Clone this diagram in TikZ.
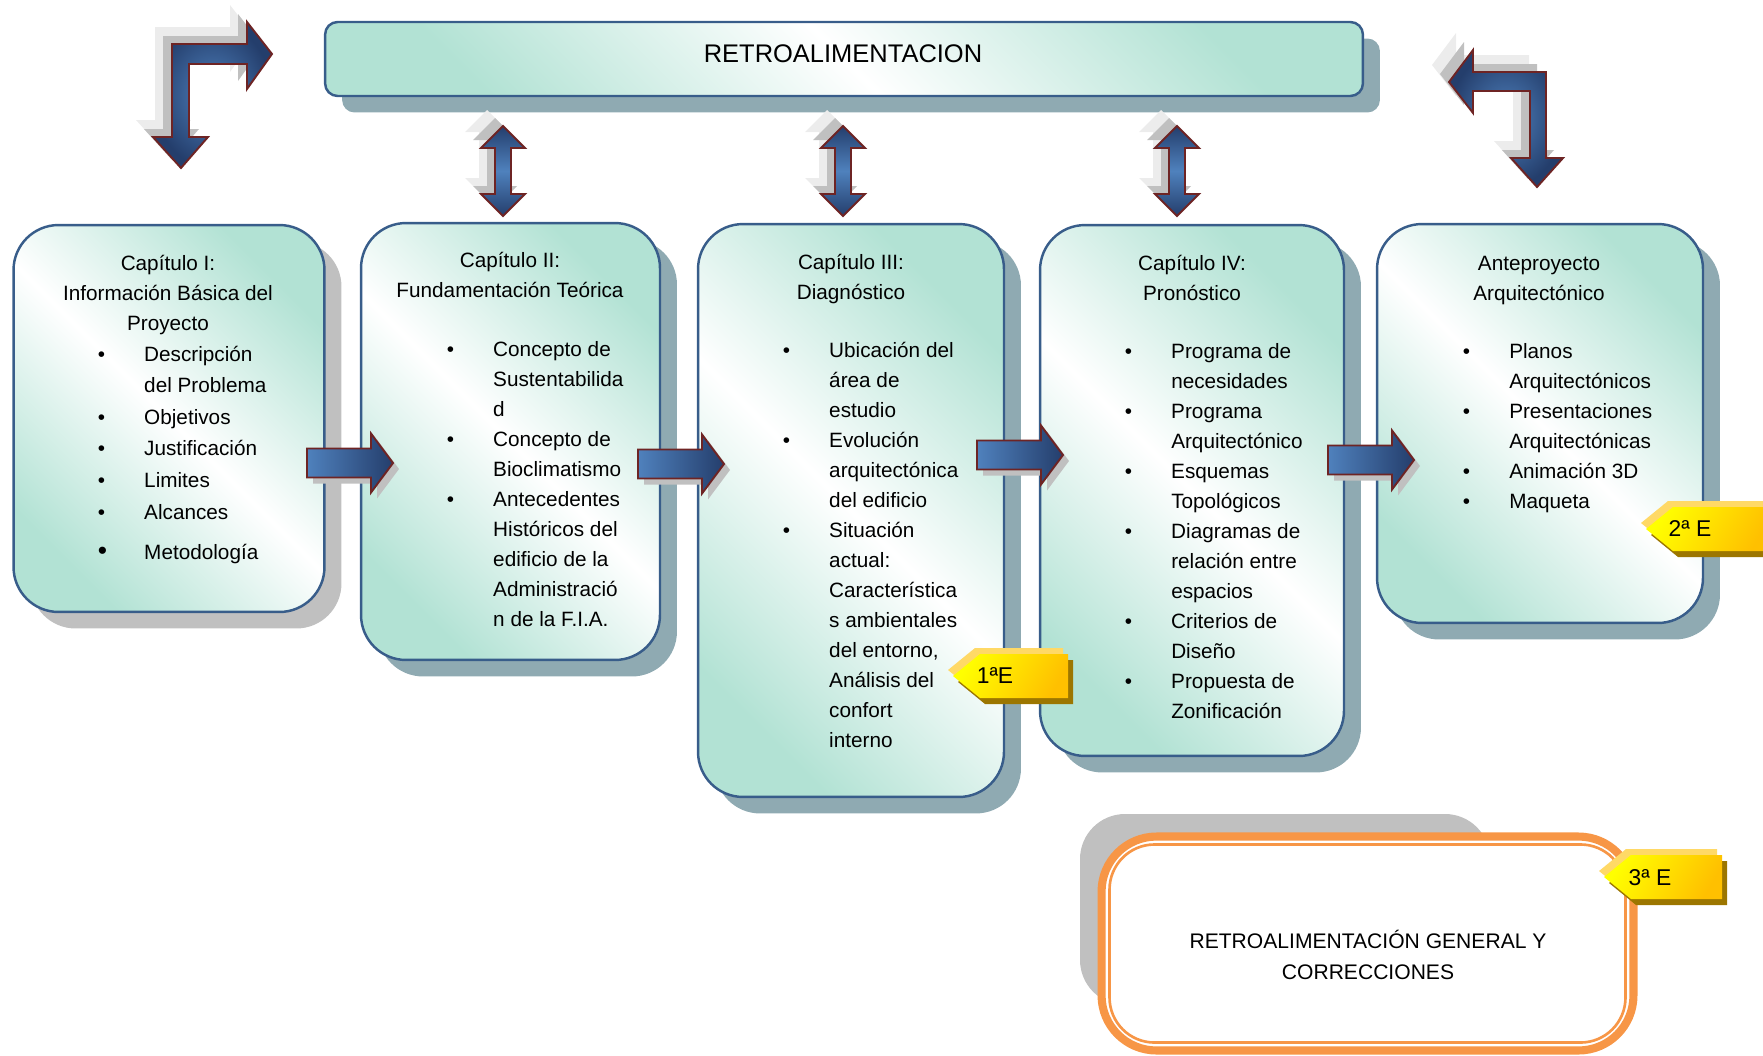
\documentclass[tikz,border=0pt]{standalone}
\usepackage{fontspec}
\setmainfont{Liberation Sans}
\usetikzlibrary{shadows}
\definecolor{mint}{RGB}{178,226,212}
\definecolor{boxblue}{RGB}{56,93,138}
\definecolor{shadowblue}{RGB}{143,170,178}
\definecolor{shadowgray}{RGB}{192,192,192}
\definecolor{palegray}{RGB}{236,236,236}
\definecolor{arrowlight}{RGB}{79,129,189}
\definecolor{arrowdark}{RGB}{36,62,108}
\definecolor{arrowline}{RGB}{110,36,36}
\definecolor{tagyellow}{RGB}{255,255,0}
\definecolor{tagorange}{RGB}{255,192,0}
\definecolor{taglight}{RGB}{255,217,102}
\definecolor{tagdark}{RGB}{156,118,0}
\definecolor{orangeline}{RGB}{247,150,70}
\tikzset{
  chbox/.style={draw=boxblue, line width=1.4pt, rounded corners=0.9cm,
    left color=mint, right color=mint, middle color=white, shading angle=135,
    inner sep=0pt, outer sep=0pt},
  blueshadow/.style={drop shadow={shadow xshift=0.34cm, shadow yshift=-0.33cm, fill=shadowblue, opacity=1}},
  grayshadow/.style={drop shadow={shadow xshift=0.34cm, shadow yshift=-0.33cm, fill=shadowgray, opacity=1}},
  txt/.style={font=\fontsize{11.8}{17.1}\selectfont, inner sep=0pt},
  txtwide/.style={font=\fontsize{11.8}{18}\selectfont, inner sep=0pt},
  blockarrow/.style={draw=arrowline, line width=1.1pt, line join=miter, left color=arrowlight, right color=arrowdark},
  vblockarrow/.style={draw=arrowline, line width=1.1pt, top color=arrowdark, bottom color=arrowdark, middle color=arrowlight},
  bentarrow/.style={draw=arrowline, line width=1.1pt, inner color=arrowlight, outer color=arrowdark},
  tagtext/.style={font=\fontsize{13}{13}\selectfont, inner sep=0pt},
  harrowpic/.pic={
    \fill[shadowgray] (6,-8.5) -- (70,-8.5) -- (70,-23.5) -- (92,6) -- (70,35.5) -- (70,20.5) -- (6,20.5) -- cycle;
    \path[blockarrow] (0,-14.5) -- (64,-14.5) -- (64,-29.5) -- (86,0) -- (64,29.5) -- (64,14.5) -- (0,14.5) -- cycle;
  },
  vdoublepic/.pic={
    \foreach \dx/\dy/\c in {-16/-16/palegray,-8/-8/shadowgray}{
      \fill[\c, shift={(\dx,\dy)}] (0,-45) -- (22,-23) -- (8,-23) -- (8,23) -- (22,23) -- (0,45) -- (-22,23) -- (-8,23) -- (-8,-23) -- (-22,-23) -- cycle;
    }
    \path[vblockarrow] (0,-45) -- (22,-23) -- (8,-23) -- (8,23) -- (22,23) -- (0,45) -- (-22,23) -- (-8,23) -- (-8,-23) -- (-22,-23) -- cycle;
  },
  yellowtag/.pic={
    \fill[tagdark, shift={(5,6)}] (0,0) -- (27,-22) -- (#1,-22) -- (#1,22) -- (27,22) -- cycle;
    \fill[taglight, shift={(-5,-6)}] (0,0) -- (27,-22) -- (#1,-22) -- (#1,22) -- (27,22) -- cycle;
    \shade[left color=tagyellow, right color=tagorange, shading angle=60] (0,0) -- (27,-22) -- (#1,-22) -- (#1,22) -- (27,22) -- cycle;
  }
}
\begin{document}
\begin{tikzpicture}[x=0.02cm, y=-0.02cm]
\useasboundingbox (0,0) rectangle (1763,1055);

% ---------- bent arrows ----------
\foreach \dx/\dy/\c in {-17/-17/palegray,-9/-8/shadowgray}{
  \fill[\c, shift={(\dx,\dy)}] (181,168) -- (208,137) -- (189,137) -- (189,64) -- (247,64) -- (247,89) -- (272,54) -- (247,22) -- (247,44) -- (172,44) -- (172,137) -- (153,137) -- cycle;
  \fill[\c, shift={(\dx,\dy)}] (1449,82) -- (1473,50) -- (1473,72) -- (1546,72) -- (1546,158) -- (1563,158) -- (1537,187) -- (1511,158) -- (1530,158) -- (1530,91) -- (1473,91) -- (1473,113) -- cycle;
}
\path[bentarrow] (181,168) -- (208,137) -- (189,137) -- (189,64) -- (247,64) -- (247,89) -- (272,54) -- (247,22) -- (247,44) -- (172,44) -- (172,137) -- (153,137) -- cycle;
\path[bentarrow] (1449,82) -- (1473,50) -- (1473,72) -- (1546,72) -- (1546,158) -- (1563,158) -- (1537,187) -- (1511,158) -- (1530,158) -- (1530,91) -- (1473,91) -- (1473,113) -- cycle;

% ---------- top feedback box ----------
\node[chbox, rounded corners=0.25cm, blueshadow, minimum width=20.76cm, minimum height=1.48cm] (retro) at (844,59) {};
\node[font=\fontsize{14.5}{14.5}\selectfont, inner sep=0pt] (retrotxt) at (843,54) {RETROALIMENTACION};

% ---------- vertical double arrows ----------
\pic at (503,171) {vdoublepic};
\pic at (843,171) {vdoublepic};
\pic at (1177,171) {vdoublepic};

% ---------- chapter boxes ----------
\node[chbox, grayshadow, minimum width=6.22cm, minimum height=7.74cm] (b1) at (169,418.5) {};
\node[chbox, blueshadow, minimum width=5.98cm, minimum height=8.74cm] (b2) at (510.5,441.5) {};
\node[chbox, blueshadow, minimum width=6.12cm, minimum height=11.46cm] (b3) at (851,510.5) {};
\node[chbox, blueshadow, minimum width=6.08cm, minimum height=10.62cm] (b4) at (1192,490.5) {};
\node[chbox, blueshadow, minimum width=6.52cm, minimum height=7.98cm] (b5) at (1540,423.5) {};

% ---------- horizontal block arrows ----------
\pic at (307,463) {harrowpic};
\pic at (638,464) {harrowpic};
\pic at (977,455) {harrowpic};
\pic at (1328,460) {harrowpic};

% ---------- box texts ----------
\node[txt, anchor=base] (h1) at (168,270) {\begin{tabular}[t]{@{}c@{}}Capítulo I:\\Información Básica del\\Proyecto\end{tabular}};
\node[txtwide, anchor=base west] (l1) at (97.5,361) {\begin{tabular}[t]{@{}p{26.4pt}@{}l@{}}
\textbullet & Descripción\\
 & del Problema\\
\textbullet & Objetivos\\
\textbullet & Justificación\\
\textbullet & Limites\\
\textbullet & Alcances\\[5pt]
{\fontsize{15}{15}\selectfont\textbullet} & Metodología
\end{tabular}};

\node[txt, anchor=base] (h2) at (510,267) {\begin{tabular}[t]{@{}c@{}}Capítulo II:\\Fundamentación Teórica\end{tabular}};
\node[txt, anchor=base west] (l2) at (446.5,356) {\begin{tabular}[t]{@{}p{26.4pt}@{}l@{}}
\textbullet & Concepto de\\
 & Sustentabilida\\
 & d\\
\textbullet & Concepto de\\
 & Bioclimatismo\\
\textbullet & Antecedentes\\
 & Históricos del\\
 & edificio de la\\
 & Administració\\
 & n de la F.I.A.
\end{tabular}};

\node[txt, anchor=base] (h3) at (851,269) {\begin{tabular}[t]{@{}c@{}}Capítulo III:\\Diagnóstico\end{tabular}};
\node[txt, anchor=base west] (l3) at (782.5,357) {\begin{tabular}[t]{@{}p{26.4pt}@{}l@{}}
\textbullet & Ubicación del\\
 & área de\\
 & estudio\\
\textbullet & Evolución\\
 & arquitectónica\\
 & del edificio\\
\textbullet & Situación\\
 & actual:\\
 & Característica\\
 & s ambientales\\
 & del entorno,\\
 & Análisis del\\
 & confort\\
 & interno
\end{tabular}};

\node[txt, anchor=base] (h4) at (1192,270) {\begin{tabular}[t]{@{}c@{}}Capítulo IV:\\Pronóstico\end{tabular}};
\node[txt, anchor=base west] (l4) at (1124.5,358) {\begin{tabular}[t]{@{}p{26.4pt}@{}l@{}}
\textbullet & Programa de\\
 & necesidades\\
\textbullet & Programa\\
 & Arquitectónico\\
\textbullet & Esquemas\\
 & Topológicos\\
\textbullet & Diagramas de\\
 & relación entre\\
 & espacios\\
\textbullet & Criterios de\\
 & Diseño\\
\textbullet & Propuesta de\\
 & Zonificación
\end{tabular}};

\node[txt, anchor=base] (h5) at (1539,270) {\begin{tabular}[t]{@{}c@{}}Anteproyecto\\Arquitectónico\end{tabular}};
\node[txt, anchor=base west] (l5) at (1462.5,358) {\begin{tabular}[t]{@{}p{26.4pt}@{}l@{}}
\textbullet & Planos\\
 & Arquitectónicos\\
\textbullet & Presentaciones\\
 & Arquitectónicas\\
\textbullet & Animación 3D\\
\textbullet & Maqueta
\end{tabular}};

% ---------- bottom box ----------
\fill[shadowgray, rounded corners=0.9cm] (1080,814) rectangle (1490,1005);
\node[draw=orangeline, line width=4.6pt, fill=white, rounded corners=1.1cm, minimum width=10.64cm, minimum height=4.28cm, inner sep=0pt] (final) at (1367.5,943.5) {};
\draw[orangeline, line width=1.5pt, rounded corners=0.9cm] ([shift={(0.24cm,-0.24cm)}]final.north west) rectangle ([shift={(-0.24cm,0.24cm)}]final.south east);
\node[font=\fontsize{12}{18}\selectfont, align=center, inner sep=0pt] (finaltxt) at (1368,955) {RETROALIMENTACIÓN GENERAL Y\\CORRECCIONES};

% ---------- stage tags ----------
\pic at (953,676) {yellowtag=115};
\node[tagtext] (t1) at (995,676) {1ªE};
\pic at (1646,529) {yellowtag=125};
\node[tagtext] (t2) at (1690,529) {2ª E};
\pic at (1604,877) {yellowtag=118};
\node[tagtext] (t3) at (1650,878) {3ª E};
\end{tikzpicture}
\end{document}
